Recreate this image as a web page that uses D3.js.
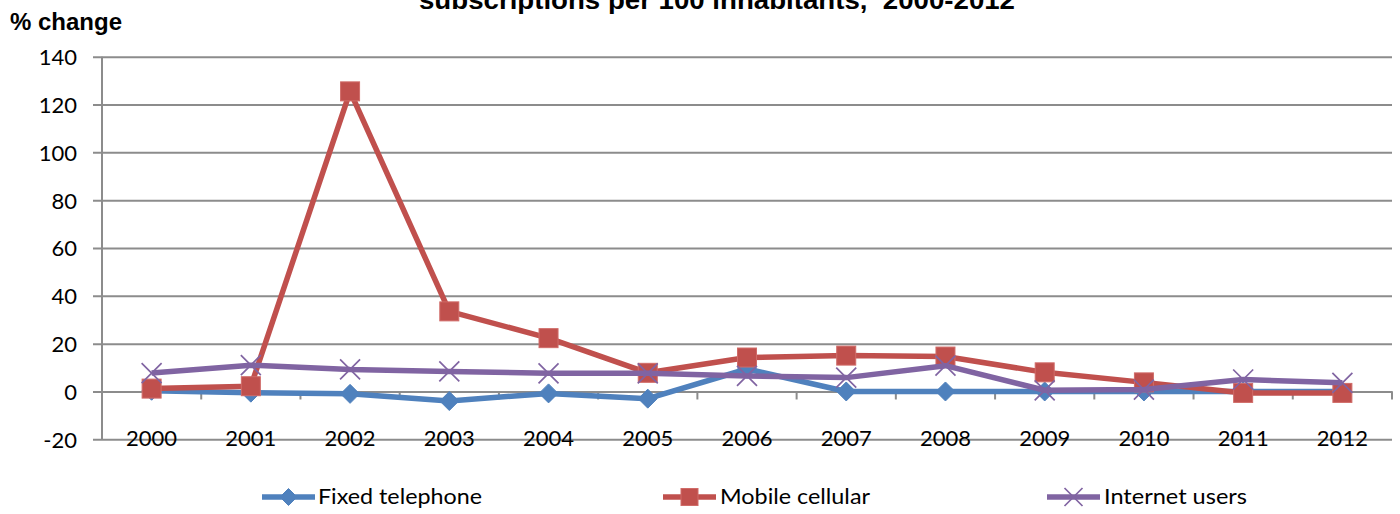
<!DOCTYPE html>
<html>
<head>
<meta charset="utf-8">
<script src="https://cdn.jsdelivr.net/npm/d3@7"></script>
<style>
  html, body { margin: 0; padding: 0; background: #ffffff; }
  svg { display: block; }
</style>
</head>
<body>
<svg id="chart" width="1400" height="514"></svg>
<script>
// ---- data ----
const years = ["2000","2001","2002","2003","2004","2005","2006","2007","2008","2009","2010","2011","2012"];
const fixedTelephone = [0.3, -0.5, -1, -4, -0.8, -3, 9.4, 0, 0, 0, 0, 0, 0];
const mobileCellular = [1.2, 2.2, 125.5, 33.5, 22.3, 7.8, 14.2, 15, 14.6, 8, 3.8, -0.6, -0.6];
const internetUsers  = [7.7, 11, 9.2, 8.4, 7.6, 7.6, 6.5, 5.8, 10.8, 0.5, 0.8, 5, 3.6];
const yTicks = [-20, 0, 20, 40, 60, 80, 100, 120, 140];
const seriesNames = ["Fixed telephone", "Mobile cellular", "Internet users"];
const titleText = "subscriptions per 100 inhabitants,  2000-2012";
const yAxisTitle = "% change";

const series = [
  { name: seriesNames[0], values: fixedTelephone, color: "#4F81BD", marker: "diamond" },
  { name: seriesNames[1], values: mobileCellular, color: "#C0504D", marker: "square" },
  { name: seriesNames[2], values: internetUsers,  color: "#8064A2", marker: "x" }
];

const svg = d3.select("#chart");
const plotLeft = 102, plotRight = 1392, plotTop = 56.7, plotBottom = 439.3;

const x = d3.scaleBand().domain(years).range([plotLeft, plotRight]).paddingInner(0).paddingOuter(0);
const xc = d => x(d) + x.bandwidth() / 2;
const y = d3.scaleLinear().domain([-20, 140]).range([plotBottom, plotTop]);

const gridColor = "#8c8c8c";
const labelFont = "Lato, 'Open Sans', sans-serif";

// title (top part cut off by the frame, as in the reference)
svg.append("text")
  .attr("x", 419).attr("y", 8.5)
  .attr("textLength", 596).attr("lengthAdjust", "spacingAndGlyphs")
  .style("white-space", "pre")
  .style("font-family", "'Liberation Sans', Arial, sans-serif")
  .style("font-weight", "bold").style("font-size", "25px")
  .attr("fill", "#000").text(titleText);

svg.append("text")
  .attr("x", 10).attr("y", 30)
  .attr("textLength", 112).attr("lengthAdjust", "spacingAndGlyphs")
  .style("font-family", "'Liberation Sans', Arial, sans-serif")
  .style("font-weight", "bold").style("font-size", "24px")
  .attr("fill", "#000").text(yAxisTitle);

// gridlines + y axis
const yAxis = d3.axisLeft(y).tickValues(yTicks).tickFormat(d => String(d))
  .tickSize(-(plotRight - plotLeft)).tickSizeOuter(0).tickPadding(0);
const gy = svg.append("g").attr("transform", `translate(${plotLeft},0)`).call(yAxis);
gy.select(".domain").remove();
gy.selectAll(".tick line")
  .attr("x1", -9).attr("x2", plotRight - plotLeft)
  .attr("stroke", gridColor).attr("stroke-width", 2);
gy.selectAll(".tick text")
  .attr("x", -25).attr("dy", "0.36em")
  .style("font-family", labelFont).style("font-size", "22px").attr("fill", "#000");

// vertical axis line
svg.append("line")
  .attr("x1", plotLeft).attr("x2", plotLeft).attr("y1", plotTop).attr("y2", plotBottom)
  .attr("stroke", gridColor).attr("stroke-width", 2);

// category axis at y = 0 with tick marks at band boundaries
const xAxis = d3.axisBottom(x).tickSize(0).tickSizeOuter(0).tickFormat("");
const gx = svg.append("g").attr("transform", `translate(0,${y(0)})`).call(xAxis);
gx.select(".domain").attr("stroke", gridColor).attr("stroke-width", 2);
gx.selectAll(".tick").remove();
const boundaries = years.slice(1).map(d => x(d)).concat([plotRight]);
gx.selectAll("line.bt").data(boundaries).enter().append("line")
  .attr("class", "bt")
  .attr("x1", d => d).attr("x2", d => d).attr("y1", 0).attr("y2", 8)
  .attr("stroke", gridColor).attr("stroke-width", 2);

// category labels (low position)
svg.append("g").selectAll("text").data(years).enter().append("text")
  .attr("x", d => xc(d)).attr("y", 446)
  .attr("text-anchor", "middle")
  .style("font-family", labelFont).style("font-size", "22px").attr("fill", "#000")
  .text(d => d);

// marker drawing
function drawMarker(g, type, cx, cy, color, s) {
  if (type === "diamond") {
    g.append("path")
      .attr("d", `M${cx},${cy - s}L${cx + s},${cy}L${cx},${cy + s}L${cx - s},${cy}Z`)
      .attr("fill", color).attr("stroke", color).attr("stroke-width", 1);
  } else if (type === "square") {
    g.append("rect")
      .attr("x", cx - s).attr("y", cy - s).attr("width", 2 * s).attr("height", 2 * s)
      .attr("fill", color).attr("stroke", "#d06b68").attr("stroke-width", 1);
  } else {
    g.append("path")
      .attr("d", `M${cx - s},${cy - s}L${cx + s},${cy + s}M${cx - s},${cy + s}L${cx + s},${cy - s}`)
      .attr("fill", "none").attr("stroke", color).attr("stroke-width", 1.7);
  }
}
const markerSize = { diamond: 9.5, square: 9.5, x: 10 };

const line = d3.line().x((d, i) => xc(years[i])).y(d => y(d));

series.forEach(s => {
  const g = svg.append("g");
  g.append("path").datum(s.values)
    .attr("d", line)
    .attr("fill", "none").attr("stroke", s.color).attr("stroke-width", 5.5)
    .attr("stroke-linejoin", "round");
  s.values.forEach((v, i) => drawMarker(g, s.marker, xc(years[i]), y(v), s.color, markerSize[s.marker]));
});

// legend
const legendItems = [
  { x0: 262, x1: 315, tx: 318, tw: 164 },
  { x0: 663, x1: 716, tx: 720, tw: 150 },
  { x0: 1047, x1: 1100, tx: 1104, tw: 143 }
];
const ly = 497;
series.forEach((s, i) => {
  const it = legendItems[i];
  const g = svg.append("g");
  g.append("line").attr("x1", it.x0).attr("x2", it.x1).attr("y1", ly).attr("y2", ly)
    .attr("stroke", s.color).attr("stroke-width", 5.5);
  drawMarker(g, s.marker, (it.x0 + it.x1) / 2, ly, s.color, markerSize[s.marker] - 1);
  g.append("text").attr("x", it.tx).attr("y", ly + 7)
    .attr("textLength", it.tw).attr("lengthAdjust", "spacingAndGlyphs")
    .style("font-family", labelFont).style("font-size", "22px").attr("fill", "#000")
    .text(s.name);
});
</script>
</body>
</html>
